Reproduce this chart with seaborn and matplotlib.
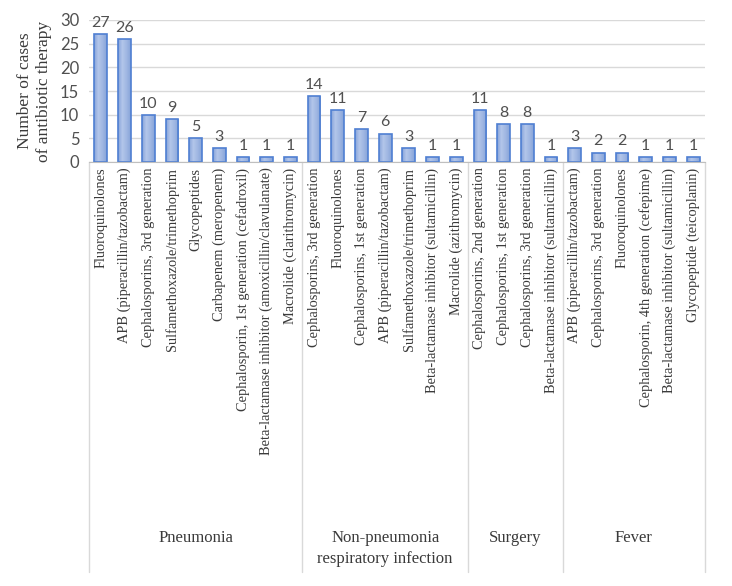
import numpy as np
import pandas as pd
import seaborn as sns
import matplotlib.pyplot as plt
import matplotlib.transforms as mtransforms
from matplotlib.colors import LinearSegmentedColormap

"""Data read from the figure"""
groups = ['Pneumonia', 'Non-pneumonia\nrespiratory infection', 'Surgery', 'Fever']

pneumonia_drugs = ['Fluoroquinolones', 'APB (piperacillin/tazobactam)',
                   'Cephalosporins, 3rd generation', 'Sulfamethoxazole/trimethoprim',
                   'Glycopeptides', 'Carbapenem (meropenem)',
                   'Cephalosporin, 1st generation (cefadroxil)',
                   'Beta-lactamase inhibitor (amoxicillin/clavulanate)',
                   'Macrolide (clarithromycin)']
pneumonia_cases = [27, 26, 10, 9, 5, 3, 1, 1, 1]

respiratory_drugs = ['Cephalosporins, 3rd generation', 'Fluoroquinolones',
                     'Cephalosporins, 1st generation', 'APB (piperacillin/tazobactam)',
                     'Sulfamethoxazole/trimethoprim',
                     'Beta-lactamase inhibitor (sultamicillin)',
                     'Macrolide (azithromycin)']
respiratory_cases = [14, 11, 7, 6, 3, 1, 1]

surgery_drugs = ['Cephalosporins, 2nd generation', 'Cephalosporins, 1st generation',
                 'Cephalosporins, 3rd generation',
                 'Beta-lactamase inhibitor (sultamicillin)']
surgery_cases = [11, 8, 8, 1]

fever_drugs = ['APB (piperacillin/tazobactam)', 'Cephalosporins, 3rd generation',
               'Fluoroquinolones', 'Cephalosporin, 4th generation (cefepime)',
               'Beta-lactamase inhibitor (sultamicillin)', 'Glycopeptide (teicoplanin)']
fever_cases = [3, 2, 2, 1, 1, 1]

"""Build a long table"""
rows = []
for g, drugs, cases in zip(groups,
                           [pneumonia_drugs, respiratory_drugs, surgery_drugs, fever_drugs],
                           [pneumonia_cases, respiratory_cases, surgery_cases, fever_cases]):
    for d, c in zip(drugs, cases):
        rows.append({'group': g, 'drug': d, 'cases': c, 'key': g + '|' + d})
df = pd.DataFrame(rows)

sns.set_style('white')
plt.rcParams['font.family'] = ['Liberation Serif', 'DejaVu Serif']
text_col = '#3a3a3a'
num_col = '#505050'
num_font = ['Lato', 'DejaVu Sans']

fig = plt.figure(figsize=(7.32, 5.86), dpi=100)
ax = fig.add_axes([89 / 732, 1 - 162 / 586, 616 / 732, 142 / 586])

sns.barplot(ax=ax, data=df, x='key', y='cases', order=list(df['key']),
            color='#9bb3e0', edgecolor='#4f7fd2', linewidth=1.2, width=0.54,
            saturation=1)

"""Horizontal gradient fill inside each bar"""
grad = LinearSegmentedColormap.from_list('g', ['#86a3d9', '#b3c6ea', '#a0b7e2', '#86a3d9'])
strip = np.linspace(0, 1, 64).reshape(1, -1)
for patch in ax.patches:
    x0, y0 = patch.get_x(), patch.get_y()
    w, h = patch.get_width(), patch.get_height()
    im = ax.imshow(strip, cmap=grad, aspect='auto', extent=[x0, x0 + w, y0, y0 + h],
                   zorder=patch.get_zorder() + 0.1)
    im.set_clip_path(patch)
    patch.set_facecolor('none')
    patch.set_zorder(patch.get_zorder() + 0.2)

"""Value labels"""
for container in ax.containers:
    ax.bar_label(container, padding=3, fontsize=11.5, color=num_col, family=num_font)

ax.set_ylim(0, 30)
ax.set_yticks(range(0, 31, 5))
ax.set_xlim(-0.5, len(df) - 0.5)
ax.yaxis.grid(True, color='#d9d9d9', linewidth=1)
ax.set_axisbelow(True)
for s in ['left', 'right', 'top']:
    ax.spines[s].set_visible(False)
ax.spines['bottom'].set_color('#bfbfbf')
ax.tick_params(axis='y', labelsize=12, colors=num_col, length=0, pad=7)
for lbl in ax.get_yticklabels():
    lbl.set_family(num_font)
ax.tick_params(axis='x', length=0, pad=4)
ax.set_xticks(range(len(df)))
ax.set_xticklabels(df['drug'], rotation=90, fontsize=10.4, color=text_col)
ax.set_xlabel('')
ax.set_ylabel('Number of cases\nof antibiotic therapy', fontsize=12.5,
              color=text_col, labelpad=6)

"""Group separators and labels below the axis"""
trans = mtransforms.blended_transform_factory(ax.transData, ax.transAxes)
bottom = -(572 - 162) / 142
edges = [-0.5]
for g in groups:
    edges.append(edges[-1] + (df['group'] == g).sum())
for e in edges:
    ax.plot([e, e], [0, bottom], transform=trans, color='#d9d9d9',
            linewidth=1, clip_on=False)
for i, g in enumerate(groups):
    center = (edges[i] + edges[i + 1]) / 2
    ax.text(center, -(530 - 162) / 142, g, transform=trans, ha='center',
            va='top', fontsize=12, color=text_col, linespacing=1.4)

plt.savefig('out.png', dpi=100)
